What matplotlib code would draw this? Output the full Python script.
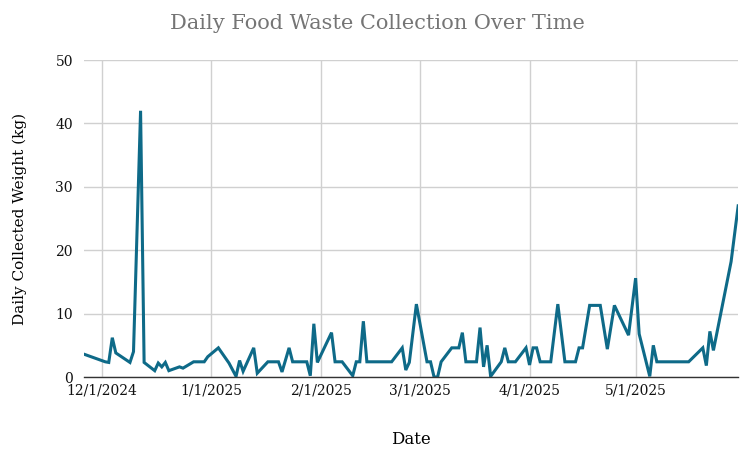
import matplotlib
matplotlib.use("Agg")
import matplotlib.dates as mdates
import matplotlib.pyplot as plt
import pandas as pd

dates = [
    "2024-11-26", "2024-12-02", "2024-12-03", "2024-12-04", "2024-12-05",
    "2024-12-09", "2024-12-10", "2024-12-12", "2024-12-13", "2024-12-16",
    "2024-12-17", "2024-12-18", "2024-12-19", "2024-12-20", "2024-12-23",
    "2024-12-24", "2024-12-27", "2024-12-30", "2024-12-31", "2025-01-03",
    "2025-01-06", "2025-01-08", "2025-01-09", "2025-01-10", "2025-01-13",
    "2025-01-14", "2025-01-17", "2025-01-20", "2025-01-21", "2025-01-23",
    "2025-01-24", "2025-01-28", "2025-01-29", "2025-01-30", "2025-01-31",
    "2025-02-04", "2025-02-05", "2025-02-07", "2025-02-10", "2025-02-11",
    "2025-02-12", "2025-02-13", "2025-02-14", "2025-02-21", "2025-02-24",
    "2025-02-25", "2025-02-26", "2025-02-28", "2025-03-03", "2025-03-04",
    "2025-03-05", "2025-03-06", "2025-03-07", "2025-03-10", "2025-03-12",
    "2025-03-13", "2025-03-14", "2025-03-17", "2025-03-18", "2025-03-19",
    "2025-03-20", "2025-03-21", "2025-03-24", "2025-03-25", "2025-03-26",
    "2025-03-28", "2025-03-31", "2025-04-01", "2025-04-02", "2025-04-03",
    "2025-04-04", "2025-04-07", "2025-04-09", "2025-04-11", "2025-04-14",
    "2025-04-15", "2025-04-16", "2025-04-18", "2025-04-21", "2025-04-23",
    "2025-04-25", "2025-04-29", "2025-05-01", "2025-05-02", "2025-05-05",
    "2025-05-06", "2025-05-07", "2025-05-16", "2025-05-20", "2025-05-21",
    "2025-05-22", "2025-05-23", "2025-05-28", "2025-05-30",
]
weights = [
    3.6, 2.4, 2.3, 6.2, 3.8,
    2.3, 4.0, 42.0, 2.3, 1.0,
    2.2, 1.6, 2.3, 1.0, 1.6,
    1.4, 2.4, 2.4, 3.2, 4.6,
    2.2, 0.1, 2.6, 0.9, 4.6,
    0.6, 2.4, 2.4, 0.8, 4.6,
    2.4, 2.4, 0.2, 8.4, 2.3,
    7.0, 2.4, 2.4, 0.2, 2.4,
    2.4, 8.8, 2.4, 2.4, 4.6,
    1.1, 2.3, 11.5, 2.4, 2.4,
    0.0, 0.0, 2.4, 4.6, 4.6,
    7.0, 2.4, 2.4, 7.8, 1.6,
    5.0, 0.1, 2.4, 4.6, 2.4,
    2.4, 4.6, 1.9, 4.6, 4.6,
    2.4, 2.4, 11.5, 2.4, 2.4,
    4.6, 4.6, 11.3, 11.3, 4.4,
    11.3, 6.6, 15.6, 6.8, 0.1,
    5.0, 2.4, 2.4, 4.6, 1.8,
    7.2, 4.2, 18.2, 27.0,
]
month_ticks = ["2024-12-01", "2025-01-01", "2025-02-01", "2025-03-01", "2025-04-01", "2025-05-01"]
tick_labels = ["12/1/2024", "1/1/2025", "2/1/2025", "3/1/2025", "4/1/2025", "5/1/2025"]

plt.rcParams["font.family"] = ["DejaVu Serif"]

x = pd.to_datetime(dates)
ticks = pd.to_datetime(month_ticks)

fig = plt.figure(figsize=(7.54, 4.55), dpi=100)
ax = fig.add_axes([0.1114, 0.1714, 0.979 - 0.1114, 0.868 - 0.1714])

ax.plot(x, weights, color="#0e6a88", linewidth=2.2, solid_joinstyle="miter")

ax.set_xlim(x[0], x[-1])
ax.set_ylim(0, 50)
ax.set_yticks([0, 10, 20, 30, 40, 50])
ax.set_xticks(ticks)
ax.set_xticklabels(tick_labels)

ax.grid(True, color="#d0d0d0", linewidth=1.0)
ax.set_axisbelow(True)
for side in ["top", "right", "left"]:
    ax.spines[side].set_visible(False)
ax.spines["bottom"].set_color("#333333")
ax.spines["bottom"].set_linewidth(1.0)
ax.tick_params(axis="x", length=0, labelsize=10, pad=5, colors="#111111")
ax.tick_params(axis="y", length=0, labelsize=10, pad=8, colors="#111111")

ax.set_xlabel("Date", fontsize=12, labelpad=24)
ax.set_ylabel("Daily Collected Weight (kg)", fontsize=11, labelpad=20)
fig.suptitle("Daily Food Waste Collection Over Time", fontsize=15, color="#757575", y=0.97)

fig.savefig("out.png", dpi=100)
